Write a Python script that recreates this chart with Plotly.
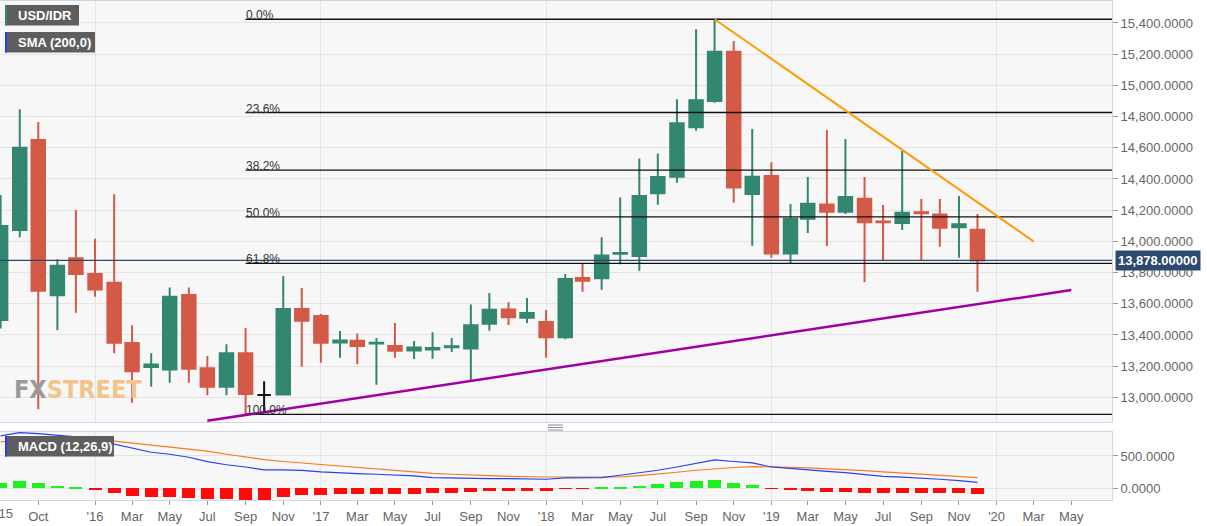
import pandas as pd
import plotly.graph_objects as go

# ---------------- data ----------------
MONTHS = pd.date_range("2015-08-01", "2019-12-01", freq="MS")

OPEN = [13496, 14073, 14650, 13654, 13891,
        13791, 13735, 13348, 13195, 13179, 13656, 13186, 13068, 13282, 13015, 13019, 13566,
        13521, 13352, 13363, 13345, 13329, 13301, 13306, 13322, 13314, 13472, 13564, 13510,
        13483, 13385, 13765, 13763, 13920, 13906, 14308, 14415, 14731, 14900, 15216, 14304,
        14419, 13923, 14145, 14237, 14190, 14273, 14128, 14118, 14186, 14173, 14090, 14075]
HIGH = [14297, 14847, 14765, 13885, 14201,
        14017, 14302, 13462, 13282, 13705, 13705, 13265, 13340, 13444, 13104, 13778, 13701,
        13534, 13425, 13410, 13380, 13476, 13361, 13417, 13380, 13596, 13669, 13611, 13637,
        13560, 13791, 13857, 14026, 14282, 14532, 14564, 14911, 15360, 15424, 15285, 14720,
        14507, 14239, 14413, 14714, 14656, 14413, 14233, 14581, 14271, 14271, 14291, 14175]
LOW = [13442, 14026, 12923, 13431, 13543,
       13645, 13282, 12965, 13068, 13094, 13094, 13013, 13013, 12891, 12905, 13019, 13196,
       13222, 13254, 13213, 13081, 13254, 13246, 13248, 13290, 13109, 13427, 13464, 13476,
       13254, 13372, 13677, 13690, 13853, 13812, 14235, 14376, 14709, 14889, 14248, 13972,
       13895, 13859, 14053, 13970, 14175, 13739, 13880, 14073, 13880, 13966, 13895, 13677]
CLOSE = [14098, 14600, 13684, 13844, 13791,
         13692, 13350, 13167, 13210, 13645, 13183, 13068, 13282, 13021, 13015, 13566, 13491,
         13350, 13365, 13329, 13350, 13299, 13320, 13316, 13328, 13462, 13562, 13513, 13541,
         13385, 13759, 13748, 13910, 13926, 14291, 14413, 14757, 14904, 15216, 14346, 14415,
         13923, 14145, 14241, 14190, 14284, 14122, 14122, 14184, 14180, 14087, 14109, 13878]
NEUTRAL_MONTHS = ["2016-10-01"]          # candle drawn in black (open == close)

MACD = [811, 862, 845, 821, 795,
        748, 682, 615, 558, 527, 480, 412, 364, 330, 284, 284, 276,
        253, 245, 228, 217, 206, 191, 166, 160, 150, 150, 150, 150,
        140, 160, 166, 166, 202, 240, 279, 330, 383, 439, 415, 392,
        330, 305, 279, 261, 243, 215, 186, 173, 160, 140, 119, 93]
SIGNAL = [718, 744, 755, 760, 760,
          760, 729, 698, 667, 636, 605, 574, 527, 481, 445, 415, 392,
          367, 344, 321, 298, 279, 256, 232, 217, 201, 197, 186, 178,
          175, 175, 175, 166, 175, 196, 217, 248, 279, 305, 322, 336,
          336, 326, 315, 305, 294, 274, 253, 235, 217, 201, 186, 166]
HIST = [83, 119, 78, 41, 16,
        -21, -72, -114, -140, -129, -150, -171, -171, -176, -176, -129, -109,
        -103, -93, -93, -83, -83, -83, -78, -67, -57, -41, -36, -36,
        -36, -10, -5, 5, 26, 41, 67, 93, 114, 134, 88, 57,
        -10, -31, -47, -57, -57, -67, -72, -72, -72, -72, -72, -83]

FIB_HIGH = 15424
FIB_LOW = 12891
FIB_RATIOS = [0.0, 0.236, 0.382, 0.5, 0.618, 1.0]
FIB_LABELS = ["0.0%", "23.6%", "38.2%", "50.0%", "61.8%", "100.0%"]
FIB_START = "2016-09-01"

RESIST_X = ["2018-10-01", "2020-03-01"]
RESIST_Y = [15424, 14000]
SUPPORT_X = ["2016-07-01", "2020-05-01"]
SUPPORT_Y = [12850, 13688]

LAST_PRICE = 13878

FIRST_TICK = "2015-08-01"
FIRST_TICK_TEXT = "'15"
TICK_DATES = ["2015-10-01"] + [
    f"{y}-{m:02d}-01" for y in (2016, 2017, 2018, 2019, 2020) for m in (1, 3, 5, 7, 9, 11)
    if not (y == 2020 and m > 5)]
TICK_TEXT = ["Oct"] + [
    ("'" + str(y)[2:] if m == 1 else {3: "Mar", 5: "May", 7: "Jul", 9: "Sep", 11: "Nov"}[m])
    for y in (2016, 2017, 2018, 2019, 2020) for m in (1, 3, 5, 7, 9, 11)
    if not (y == 2020 and m > 5)]
YEAR_STARTS = ["2016-01-01", "2017-01-01", "2018-01-01", "2019-01-01", "2020-01-01"]

PRICE_TICKS = list(range(13000, 15401, 200))
MACD_TICKS = [0, 500]

X_RANGE = ["2015-07-31", "2020-07-06"]
Y_RANGE = [12842, 15541]
Y2_RANGE = [-181, 871]

# ---------------- style ----------------
W, H = 1207, 526
ML, MR, MT, MB = 0, 95, 1, 26
PH = H - MT - MB
PW = W - ML - MR


def yf(px):
    return (H - MB - px) / PH


def xf(px):
    return (px - ML) / PW


GREEN = "#33866f"
RED = "#d45a48"
GRID = "#e4e4e4"
BORDER = "#cfd6e6"
TICKC = "#666666"
FONT = "Liberation Sans"

fig = go.Figure()

neutral = set(pd.to_datetime(NEUTRAL_MONTHS))
mi = [i for i, d in enumerate(MONTHS) if d not in neutral]
ni = [i for i, d in enumerate(MONTHS) if d in neutral]

fig.add_trace(go.Candlestick(
    x=[MONTHS[i] for i in mi], open=[OPEN[i] for i in mi], high=[HIGH[i] for i in mi],
    low=[LOW[i] for i in mi], close=[CLOSE[i] for i in mi],
    increasing=dict(line=dict(color=GREEN, width=2), fillcolor=GREEN),
    decreasing=dict(line=dict(color=RED, width=2), fillcolor=RED),
    whiskerwidth=0, showlegend=False, xaxis="x", yaxis="y"))
fig.add_trace(go.Candlestick(
    x=[MONTHS[i] for i in ni], open=[OPEN[i] for i in ni], high=[HIGH[i] for i in ni],
    low=[LOW[i] for i in ni], close=[CLOSE[i] for i in ni],
    increasing=dict(line=dict(color="#111111", width=2), fillcolor="#111111"),
    decreasing=dict(line=dict(color="#111111", width=2), fillcolor="#111111"),
    whiskerwidth=0, showlegend=False, xaxis="x", yaxis="y"))

# price line
fig.add_trace(go.Scatter(x=X_RANGE, y=[LAST_PRICE, LAST_PRICE], mode="lines",
                         line=dict(color="#2c4870", width=1.3), showlegend=False,
                         hoverinfo="skip", xaxis="x", yaxis="y"))

# fibonacci levels
annotations = []
for r, lab in zip(FIB_RATIOS, FIB_LABELS):
    lvl = FIB_HIGH - r * (FIB_HIGH - FIB_LOW)
    fig.add_trace(go.Scatter(x=[FIB_START, "2020-12-01"], y=[lvl, lvl], mode="lines",
                             line=dict(color="#111111", width=1.3), showlegend=False,
                             hoverinfo="skip", xaxis="x", yaxis="y"))
    annotations.append(dict(x=FIB_START, y=lvl, xref="x", yref="y", text=lab,
                            showarrow=False, xanchor="left", yanchor="bottom",
                            yshift=-5, xshift=-2,
                            font=dict(size=12, color="#333333", family=FONT)))

# trend lines
fig.add_trace(go.Scatter(x=RESIST_X, y=RESIST_Y, mode="lines",
                         line=dict(color="#ff9a00", width=2), showlegend=False,
                         hoverinfo="skip", xaxis="x", yaxis="y"))
fig.add_trace(go.Scatter(x=SUPPORT_X, y=SUPPORT_Y, mode="lines",
                         line=dict(color="#a000a3", width=2.5), showlegend=False,
                         hoverinfo="skip", xaxis="x", yaxis="y"))

# MACD panel
day_ms = 86400000
fig.add_trace(go.Bar(x=MONTHS, y=HIST, width=21 * day_ms,
                     marker=dict(color=["#1ff01f" if v >= 0 else "#ff0a0a" for v in HIST],
                                 line=dict(width=0)),
                     showlegend=False, xaxis="x2", yaxis="y2"))
fig.add_trace(go.Scatter(x=MONTHS, y=SIGNAL, mode="lines",
                         line=dict(color="#f57d1f", width=1.2), showlegend=False,
                         xaxis="x2", yaxis="y2"))
fig.add_trace(go.Scatter(x=MONTHS, y=MACD, mode="lines",
                         line=dict(color="#2b3ff0", width=1.2), showlegend=False,
                         xaxis="x2", yaxis="y2"))

shapes = []
for d in YEAR_STARTS:
    shapes.append(dict(type="line", xref="x2", yref="y2 domain", x0=d, x1=d, y0=0, y1=1,
                       line=dict(color=GRID, width=1), layer="below"))

# info boxes
def box(x0, x1, y0, y1, bar):
    shapes.append(dict(type="rect", xref="paper", yref="paper", x0=xf(x0), x1=xf(x1),
                       y0=yf(y1), y1=yf(y0), fillcolor="#5e5e5e", line=dict(width=0)))
    shapes.append(dict(type="rect", xref="paper", yref="paper", x0=xf(x0), x1=xf(x0 + 2),
                       y0=yf(y1), y1=yf(y0), fillcolor=bar, line=dict(width=0)))


box(5, 79, 5, 25.5, "#2e8a72")
box(5, 95, 32, 52.5, "#1f3cff")
box(5, 114, 436, 456.5, "#1f3cff")
for txt, yc in (("USD/IDR", 15.5), ("SMA (200,0)", 42.5), ("MACD (12,26,9)", 446.5)):
    annotations.append(dict(x=xf(16), y=yf(yc), xref="paper", yref="paper", text=txt,
                            showarrow=False, xanchor="left", yanchor="middle",
                            font=dict(size=13, color="white", family=FONT, weight="bold")))

# separator grip
for yy in (425, 427.5, 430):
    shapes.append(dict(type="line", xref="paper", yref="paper", x0=xf(548), x1=xf(563),
                       y0=yf(yy), y1=yf(yy), line=dict(color="#8a8a8a", width=1)))

# first (partially cut) x tick label
annotations.append(dict(x=FIRST_TICK, y=yf(513), xref="x2", yref="paper",
                        text=FIRST_TICK_TEXT, showarrow=False, xanchor="center",
                        yanchor="middle", xshift=4,
                        font=dict(size=13, color=TICKC, family=FONT)))

# watermark
annotations.append(dict(x=xf(12), y=yf(389), xref="paper", yref="paper",
                        text='<span style="color:#9a9a9a">FX</span><span style="color:#f3c38c">STREET</span>',
                        showarrow=False, xanchor="left", yanchor="middle",
                        font=dict(size=25, family="DejaVu Sans Condensed, DejaVu Sans, sans-serif",
                                  weight="bold")))

# last price label
annotations.append(dict(x=1, y=LAST_PRICE, xref="paper", yref="y",
                        text="<b>13,878.00000</b>", showarrow=False, xanchor="left",
                        yanchor="middle", xshift=3, bgcolor="#2d4a6e", borderpad=2,
                        font=dict(size=13, color="white", family=FONT)))

fig.update_layout(
    width=W, height=H,
    margin=dict(l=ML, r=MR, t=MT, b=MB, autoexpand=False),
    paper_bgcolor="white", plot_bgcolor="#f7f7f7",
    font=dict(family=FONT, size=13, color=TICKC),
    showlegend=False, boxgap=0.22, boxgroupgap=0, bargap=0,
    xaxis=dict(domain=[0, 1], anchor="y", type="date", range=X_RANGE,
               tickmode="array", tickvals=YEAR_STARTS, showticklabels=False, ticks="",
               showgrid=True, gridcolor=GRID, zeroline=False,
               showline=True, mirror=True, linecolor=BORDER,
               rangeslider=dict(visible=False)),
    yaxis=dict(domain=[yf(422), 1], anchor="x", side="right", range=Y_RANGE,
               tickmode="array", tickvals=PRICE_TICKS, tickformat=",.4f",
               ticks="outside", ticklen=5, tickcolor="#9a9a9a",
               tickfont=dict(size=13, color=TICKC),
               showgrid=True, gridcolor=GRID, zeroline=False,
               showline=True, mirror=True, linecolor=BORDER),
    xaxis2=dict(domain=[0, 1], anchor="y2", type="date", range=X_RANGE, matches="x",
                tickmode="array", tickvals=TICK_DATES, ticktext=TICK_TEXT,
                ticks="outside", ticklen=4, tickcolor="#9a9a9a",
                tickfont=dict(size=13, color=TICKC),
                showgrid=False, zeroline=False,
                showline=True, mirror=True, linecolor=BORDER),
    yaxis2=dict(domain=[0, yf(432)], anchor="x2", side="right", range=Y2_RANGE,
                tickmode="array", tickvals=MACD_TICKS, tickformat=",.4f",
                ticks="outside", ticklen=5, tickcolor="#9a9a9a",
                tickfont=dict(size=13, color=TICKC),
                showgrid=True, gridcolor=GRID, zeroline=False,
                showline=True, mirror=True, linecolor=BORDER),
    shapes=shapes, annotations=annotations,
)

fig.write_html("out.html")
